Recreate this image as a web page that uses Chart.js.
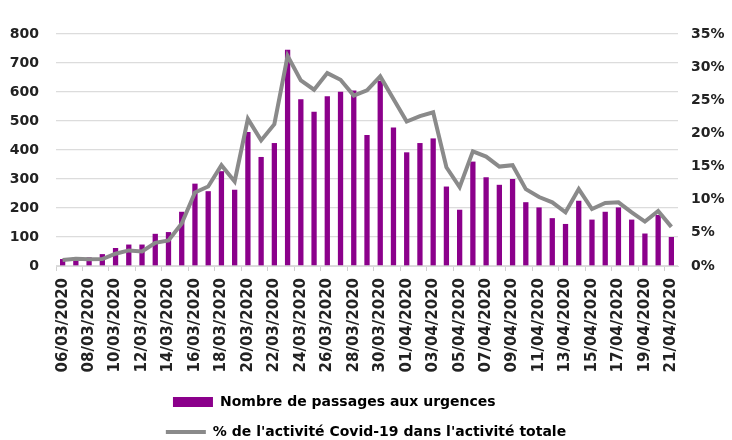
<!DOCTYPE html>
<html>
<head>
<meta charset="utf-8">
<script src="https://cdn.jsdelivr.net/npm/chart.js@4/dist/chart.umd.min.js"></script>
<style>
  html, body { margin: 0; padding: 0; background: #fff; }
  .wrap { width: 732px; height: 440px; }
</style>
</head>
<body>
<div class="wrap"><canvas id="mychart"></canvas></div>
<script>
// categories (one per day)
const days = [
  '06/03/2020','07/03/2020','08/03/2020','09/03/2020','10/03/2020','11/03/2020','12/03/2020',
  '13/03/2020','14/03/2020','15/03/2020','16/03/2020','17/03/2020','18/03/2020','19/03/2020',
  '20/03/2020','21/03/2020','22/03/2020','23/03/2020','24/03/2020','25/03/2020','26/03/2020',
  '27/03/2020','28/03/2020','29/03/2020','30/03/2020','31/03/2020','01/04/2020','02/04/2020',
  '03/04/2020','04/04/2020','05/04/2020','06/04/2020','07/04/2020','08/04/2020','09/04/2020',
  '10/04/2020','11/04/2020','12/04/2020','13/04/2020','14/04/2020','15/04/2020','16/04/2020',
  '17/04/2020','18/04/2020','19/04/2020','20/04/2020','21/04/2020'
];

// Nombre de passages aux urgences
const passages = [
  24, 29, 30, 41, 62, 74, 74, 111, 117, 187, 284, 258, 327, 263, 462, 376, 424,
  746, 575, 532, 585, 601, 605, 452, 639, 478, 392, 424, 440, 274, 194, 360, 306,
  280, 300, 220, 202, 165, 145, 225, 160, 187, 202, 160, 112, 176, 100
];

// % de l'activité Covid-19 dans l'activité totale
const partCovid = [
  0.9, 1.1, 1.0, 1.05, 1.85, 2.35, 2.2, 3.5, 3.85, 6.4, 11.1, 12.0, 15.2, 12.75,
  22.2, 18.95, 21.4, 31.7, 28.0, 26.6, 29.1, 28.1, 25.7, 26.5, 28.6, 25.2, 21.8,
  22.6, 23.2, 14.9, 11.9, 17.3, 16.5, 15.0, 15.2, 11.6, 10.4, 9.6, 8.1, 11.6, 8.6,
  9.5, 9.6, 8.1, 6.7, 8.3, 5.9
];

const barLabel = 'Nombre de passages aux urgences';
const lineLabel = "% de l'activité Covid-19 dans l'activité totale";

const purple = '#8b008b';
const grey = '#8a8a8a';
const textCol = '#222222';

Chart.defaults.font.family = "'DejaVu Sans', 'Liberation Sans', sans-serif";
Chart.defaults.font.weight = 'bold';
Chart.defaults.font.size = 14;
Chart.defaults.color = textCol;

const chart = document.getElementById('mychart').getContext('2d');
let urgChart = new Chart(chart, {
  data: {
    labels: days,
    datasets: [
      {
        type: 'line',
        label: lineLabel,
        data: partCovid,
        yAxisID: 'y1',
        borderColor: grey,
        backgroundColor: grey,
        borderWidth: 4,
        pointRadius: 0,
        tension: 0,
        order: 0
      },
      {
        type: 'bar',
        label: barLabel,
        data: passages,
        yAxisID: 'y',
        backgroundColor: purple,
        barPercentage: 0.4,
        categoryPercentage: 1,
        order: 1
      }
    ]
  },
  options: {
    responsive: true,
    maintainAspectRatio: false,
    animation: false,
    layout: { padding: { top: 34, bottom: -9, left: 0, right: 0 } },
    scales: {
      x: {
        offset: true,
        grid: {
          offset: true,
          drawOnChartArea: false,
          drawTicks: true,
          tickLength: 5,
          color: (c) => (c.index % 2 === 0 ? '#d0d0d0' : 'transparent')
        },
        border: { display: true, color: '#d9d9d9', width: 1 },
        ticks: {
          autoSkip: false,
          minRotation: 90,
          maxRotation: 90,
          padding: 7,
          font: { size: 15 },
          callback: function (v, i) { return i % 2 === 0 ? days[i] : ''; }
        },
        afterFit: (s) => { s.height = 113; }
      },
      y: {
        position: 'left',
        min: 0,
        max: 800,
        ticks: { stepSize: 100, padding: 17 },
        grid: { color: '#dcdcdc', lineWidth: 1.3, drawTicks: false },
        border: { display: false },
        afterFit: (s) => { s.width = 56; }
      },
      y1: {
        position: 'right',
        min: 0,
        max: 35,
        ticks: { stepSize: 5, padding: 13, callback: (v) => v + '%' },
        grid: { drawOnChartArea: false, drawTicks: false },
        border: { display: false },
        afterFit: (s) => { s.width = 54; }
      }
    },
    plugins: {
      tooltip: { enabled: false },
      legend: {
        position: 'bottom',
        labels: {
          usePointStyle: true,
          pointStyleWidth: 40,
          boxHeight: 10,
          padding: 16,
          font: { size: 14 },
          generateLabels: () => [
            { text: barLabel + '\u00a0'.repeat(13), fillStyle: purple, strokeStyle: purple,
              lineWidth: 0, pointStyle: 'rect', datasetIndex: 1 },
            { text: lineLabel, fillStyle: grey, strokeStyle: grey,
              lineWidth: 4, pointStyle: 'line', datasetIndex: 0 }
          ]
        }
      }
    }
  }
});
</script>
</body>
</html>
